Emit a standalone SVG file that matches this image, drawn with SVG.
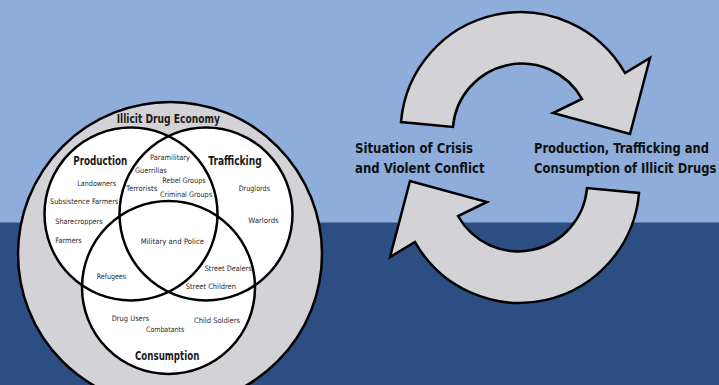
<svg xmlns="http://www.w3.org/2000/svg" xmlns:xlink="http://www.w3.org/1999/xlink" width="719" height="385" viewBox="0 0 719 385">
<defs>
<style>
text{font-family:"DejaVu Sans Condensed","DejaVu Sans","Liberation Sans",sans-serif;font-stretch:condensed}
.s{font-size:7.5px;fill:#2a2a2a}
.b{font-size:11.5px;font-weight:bold;fill:#1a1a1a}
.t{font-size:13px;font-weight:bold;fill:#111}
.ring{fill:none;stroke:#000;stroke-width:2.5}
.arrow{fill:#d3d2d7;stroke:#000;stroke-width:2.5;stroke-linejoin:miter}
</style>
<path id="arr" d="M401,122 A120,120 0 0 1 625,73 L650,58 L630,134 L553,113 L582,99 A69,69 0 0 0 453,127 Z"/>
</defs>
<rect x="0" y="0" width="719" height="385" fill="#2d4e82"/>
<rect x="0" y="0" width="719" height="222.5" fill="#8eaddb"/>

<g id="illicit-drug-economy">
<circle cx="170" cy="254" r="152" fill="#d3d2d7" stroke="#000" stroke-width="2.5"/>
<text class="b" x="116.7" y="123.3" textLength="103.3" lengthAdjust="spacingAndGlyphs">Illicit Drug Economy</text>
</g>
<g id="venn-fills">
<circle cx="131" cy="214" r="86.5" fill="#fff"/>
<circle cx="206" cy="214" r="86.5" fill="#fff"/>
<circle cx="168.5" cy="287.5" r="86.5" fill="#fff"/>
</g>
<g id="set-production">
<circle class="ring" cx="131" cy="214" r="86.5"/>
<text class="b" x="73.3" y="165" textLength="54" lengthAdjust="spacingAndGlyphs">Production</text>
</g>
<g id="set-trafficking">
<circle class="ring" cx="206" cy="214" r="86.5"/>
<text class="b" x="208.3" y="165" textLength="53.4" lengthAdjust="spacingAndGlyphs">Trafficking</text>
</g>
<g id="set-consumption">
<circle class="ring" cx="168.5" cy="287.5" r="86.5"/>
<text class="b" x="135" y="360" textLength="64.3" lengthAdjust="spacingAndGlyphs">Consumption</text>
</g>
<g id="venn-members">
<text class="s" x="150" y="160" textLength="40" lengthAdjust="spacingAndGlyphs">Paramilitary</text>
<text class="s" x="135" y="172.7" textLength="31.7" lengthAdjust="spacingAndGlyphs">Guerrillas</text>
<text class="s" x="162.3" y="182.7" textLength="43.4" lengthAdjust="spacingAndGlyphs">Rebel Groups</text>
<text class="s" x="126" y="190.7" textLength="31.3" lengthAdjust="spacingAndGlyphs">Terrorists</text>
<text class="s" x="160" y="196.7" textLength="52" lengthAdjust="spacingAndGlyphs">Criminal Groups</text>
<text class="s" x="77.3" y="185.7" textLength="38.7" lengthAdjust="spacingAndGlyphs">Landowners</text>
<text class="s" x="50" y="204.3" textLength="68.3" lengthAdjust="spacingAndGlyphs">Subsistence Farmers</text>
<text class="s" x="55.3" y="224.3" textLength="47.4" lengthAdjust="spacingAndGlyphs">Sharecroppers</text>
<text class="s" x="55.3" y="242.7" textLength="26.4" lengthAdjust="spacingAndGlyphs">Farmers</text>
<text class="s" x="238.7" y="191" textLength="31.3" lengthAdjust="spacingAndGlyphs">Druglords</text>
<text class="s" x="248.3" y="222.7" textLength="30.4" lengthAdjust="spacingAndGlyphs">Warlords</text>
<text class="s" x="140.7" y="244" textLength="63.3" lengthAdjust="spacingAndGlyphs">Military and Police</text>
<text class="s" x="204.7" y="270.7" textLength="47" lengthAdjust="spacingAndGlyphs">Street Dealers</text>
<text class="s" x="96.7" y="279.3" textLength="29.3" lengthAdjust="spacingAndGlyphs">Refugees</text>
<text class="s" x="185.7" y="289.3" textLength="50.3" lengthAdjust="spacingAndGlyphs">Street Children</text>
<text class="s" x="111.7" y="321" textLength="37.3" lengthAdjust="spacingAndGlyphs">Drug Users</text>
<text class="s" x="146" y="332.3" textLength="38.3" lengthAdjust="spacingAndGlyphs">Combatants</text>
<text class="s" x="194" y="322.7" textLength="46" lengthAdjust="spacingAndGlyphs">Child Soldiers</text>
</g>

<g id="connectors">
<use xlink:href="#arr" href="#arr" class="arrow"/>
<use xlink:href="#arr" href="#arr" class="arrow" transform="rotate(180 520 157.5)"/>
</g>
<g id="node-crisis">
<text class="t" transform="translate(355 153.3) scale(1 1.12)" x="0" y="0" textLength="118" lengthAdjust="spacingAndGlyphs">Situation of Crisis</text>
<text class="t" transform="translate(355 173.3) scale(1 1.12)" x="0" y="0" textLength="129.5" lengthAdjust="spacingAndGlyphs">and Violent Conflict</text>
</g>
<g id="node-drugs">
<text class="t" transform="translate(534 153.3) scale(1 1.12)" x="0" y="0" textLength="175" lengthAdjust="spacingAndGlyphs">Production, Trafficking and</text>
<text class="t" transform="translate(534 173.3) scale(1 1.12)" x="0" y="0" textLength="182.5" lengthAdjust="spacingAndGlyphs">Consumption of Illicit Drugs</text>
</g>
</svg>
